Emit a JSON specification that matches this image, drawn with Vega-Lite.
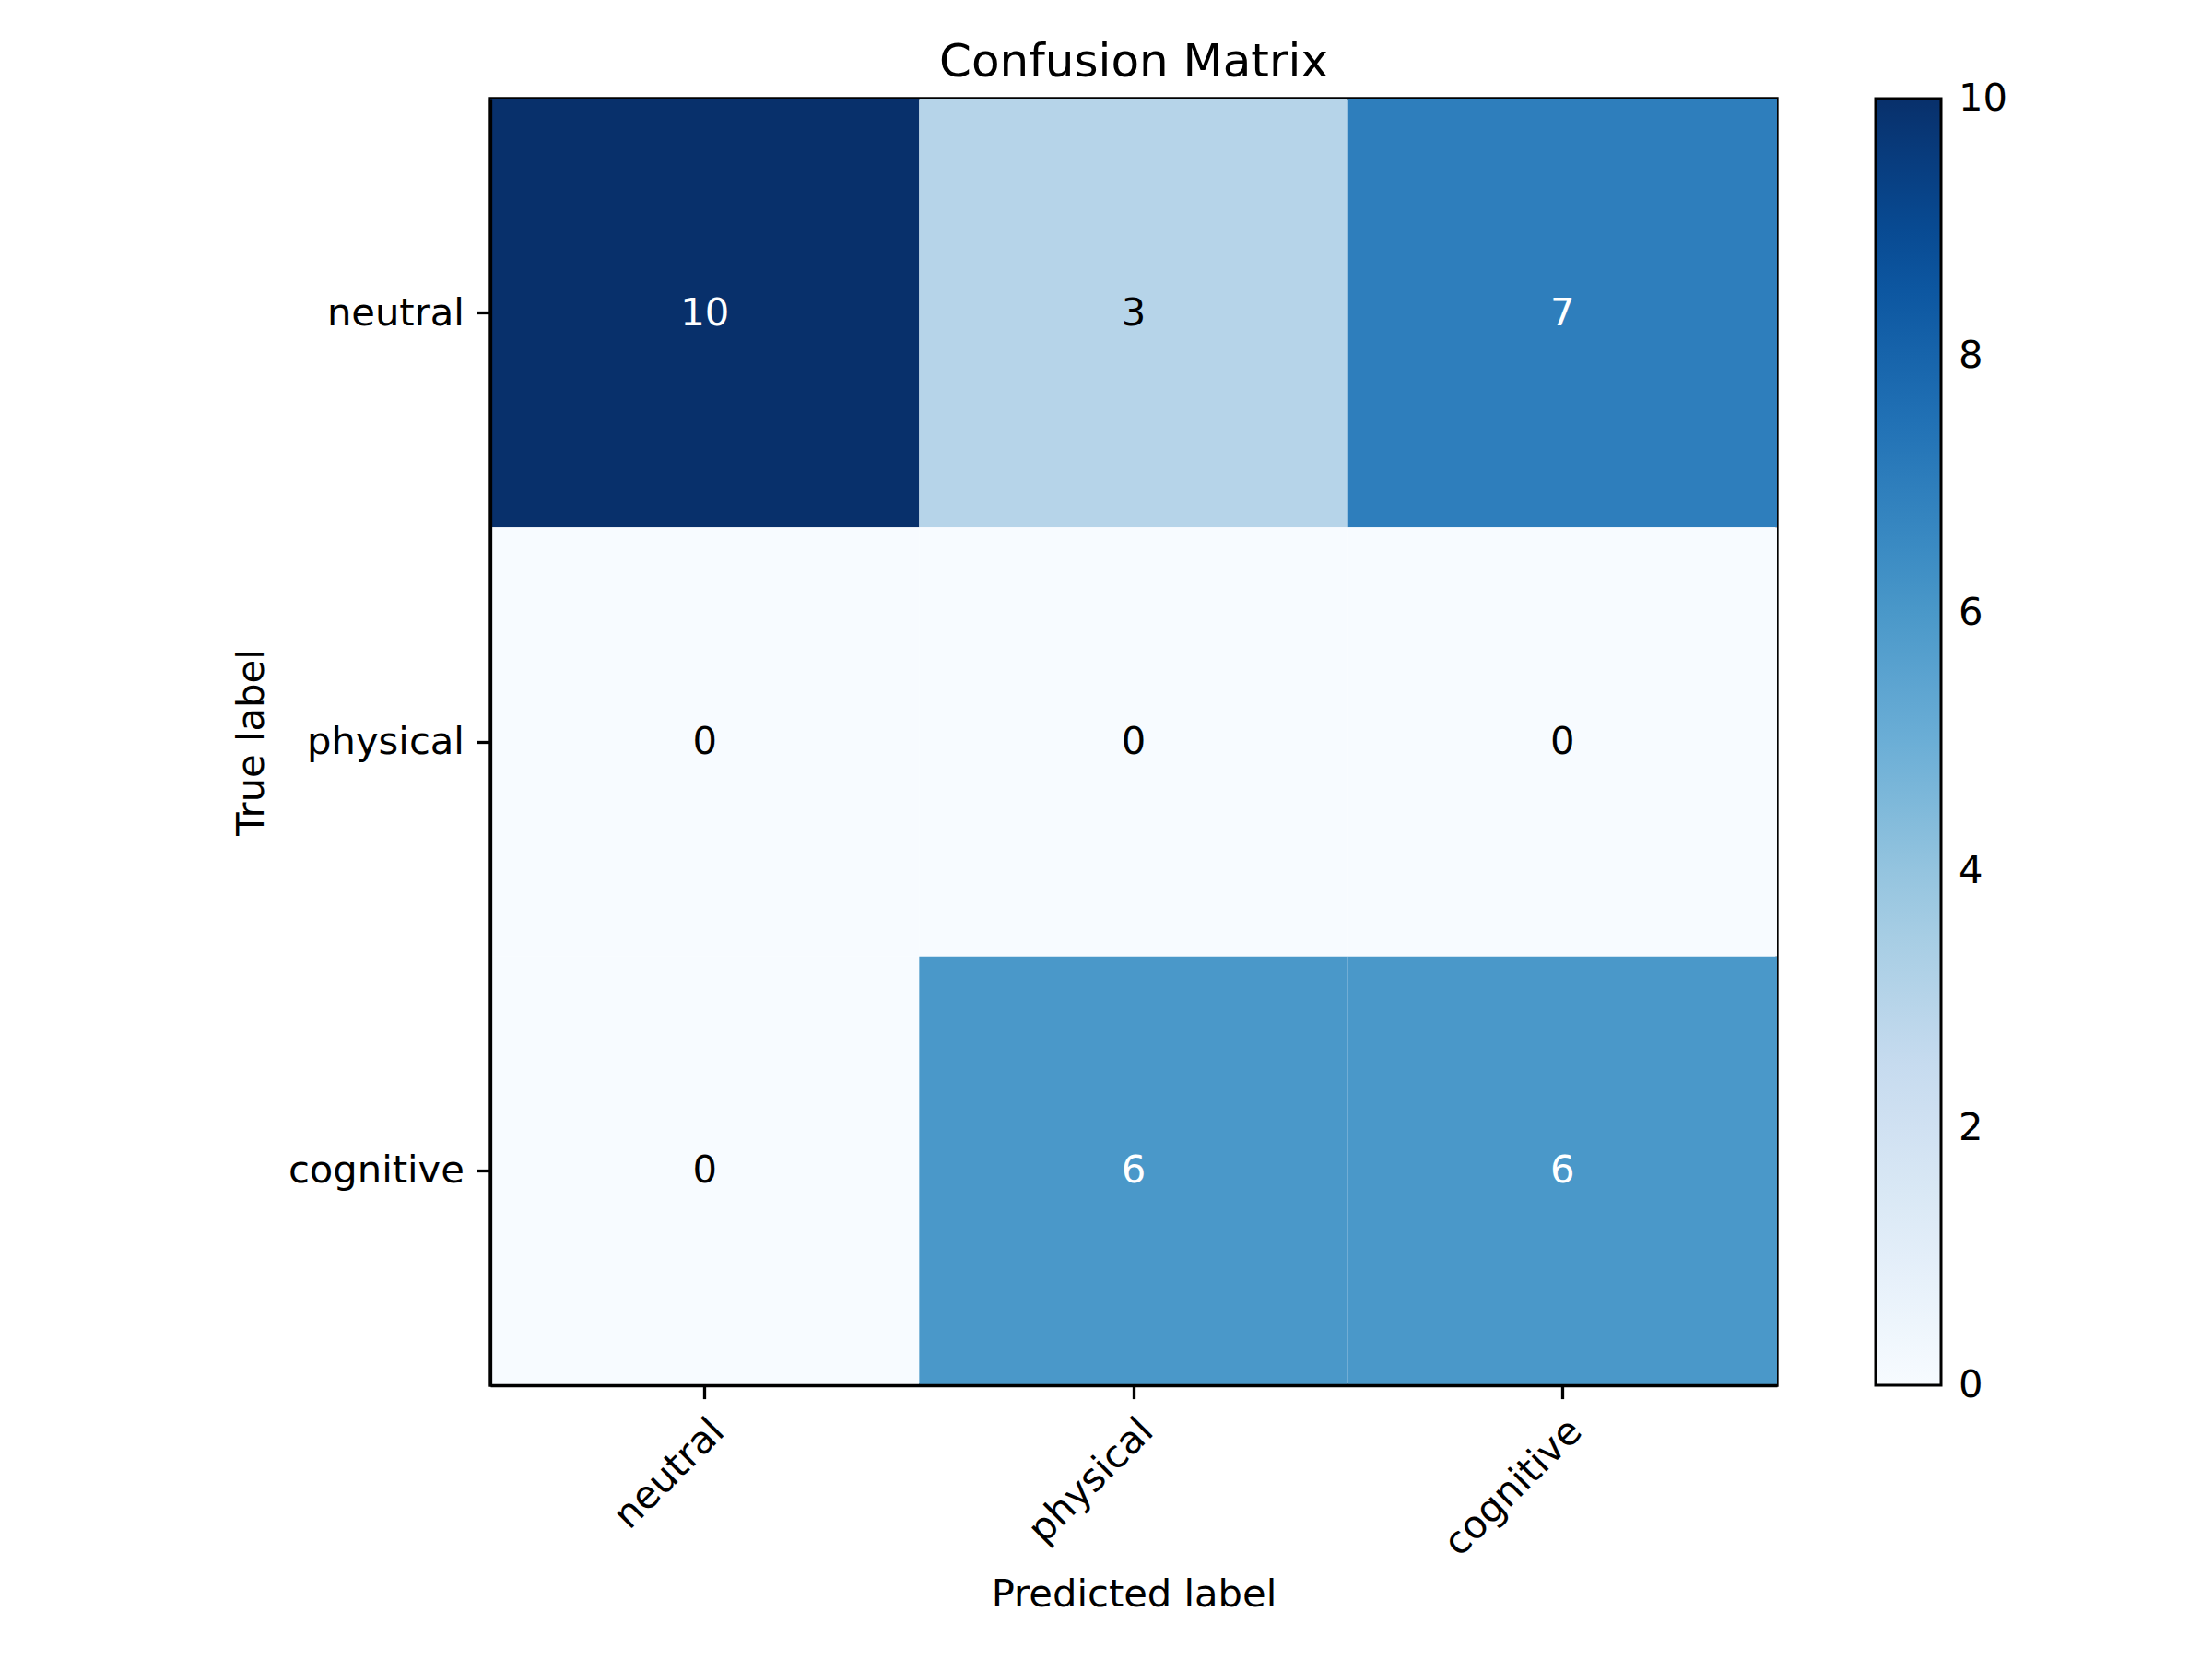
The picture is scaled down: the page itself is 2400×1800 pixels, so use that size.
{
  "$schema": "https://vega.github.io/schema/vega-lite/v6.json",
  "width": 1396,
  "height": 1396,
  "autosize": {"type": "none"},
  "padding": {"left": 532, "top": 107, "right": 472, "bottom": 297},
  "background": "white",
  "title": {"text": "Confusion Matrix", "fontSize": 50, "font": "DejaVu Sans", "fontWeight": "normal", "color": "black", "anchor": "middle", "offset": 14},
  "data": {"values": [
    {"true": "neutral", "pred": "neutral", "count": 10},
    {"true": "neutral", "pred": "physical", "count": 3},
    {"true": "neutral", "pred": "cognitive", "count": 7},
    {"true": "physical", "pred": "neutral", "count": 0},
    {"true": "physical", "pred": "physical", "count": 0},
    {"true": "physical", "pred": "cognitive", "count": 0},
    {"true": "cognitive", "pred": "neutral", "count": 0},
    {"true": "cognitive", "pred": "physical", "count": 6},
    {"true": "cognitive", "pred": "cognitive", "count": 6}
  ]},
  "encoding": {
    "x": {"field": "pred", "type": "nominal", "sort": ["neutral", "physical", "cognitive"],
      "scale": {"paddingInner": 0, "paddingOuter": 0},
      "axis": {"title": "Predicted label", "labelAngle": -45, "labelAlign": "right", "labelBaseline": "top", "labelPadding": 14, "titlePadding": 13, "labelLimit": 0}},
    "y": {"field": "true", "type": "nominal", "sort": ["neutral", "physical", "cognitive"],
      "scale": {"paddingInner": 0, "paddingOuter": 0},
      "axis": {"title": "True label", "labelPadding": 14, "titlePadding": 38, "labelLimit": 0}}
  },
  "layer": [
    {
      "mark": {"type": "rect"},
      "encoding": {
        "color": {"field": "count", "type": "quantitative",
          "scale": {"type": "linear", "domain": [0, 1.25, 2.5, 3.75, 5, 6.25, 7.5, 8.75, 10],
            "range": ["#f7fbff", "#deebf7", "#c6dbef", "#9ecae1", "#6baed6", "#4292c6", "#2171b5", "#08519c", "#08306b"],
            "interpolate": "rgb"},
          "legend": {"title": null, "orient": "none", "legendX": 1503, "legendY": 0, "direction": "vertical",
            "gradientLength": 1396, "gradientThickness": 71, "gradientStrokeColor": "black", "gradientStrokeWidth": 3,
            "values": [0, 2, 4, 6, 8, 10], "format": "d", "labelFontSize": 41.67, "labelFont": "DejaVu Sans", "labelColor": "black",
            "labelOffset": 19, "labelOverlap": false, "labelBaseline": "middle",
            "encode": {"labels": {"update": {"baseline": {"value": "middle"}}}}}}
      }
    },
    {
      "mark": {"type": "text", "fontSize": 41.67, "font": "DejaVu Sans", "align": "center", "baseline": "middle"},
      "encoding": {
        "text": {"field": "count", "type": "quantitative"},
        "color": {"condition": {"test": "datum.count > 5", "value": "white"}, "value": "black"}
      }
    }
  ],
  "config": {
    "view": {"stroke": "black", "strokeWidth": 3.3},
    "axis": {"labelFontSize": 41.67, "titleFontSize": 41.67, "labelFont": "DejaVu Sans", "titleFont": "DejaVu Sans",
      "labelColor": "black", "titleColor": "black", "titleFontWeight": "normal", "tickColor": "black", "tickSize": 14.6,
      "tickWidth": 3.3, "domainColor": "black", "domainWidth": 3.3, "grid": false}
  }
}
